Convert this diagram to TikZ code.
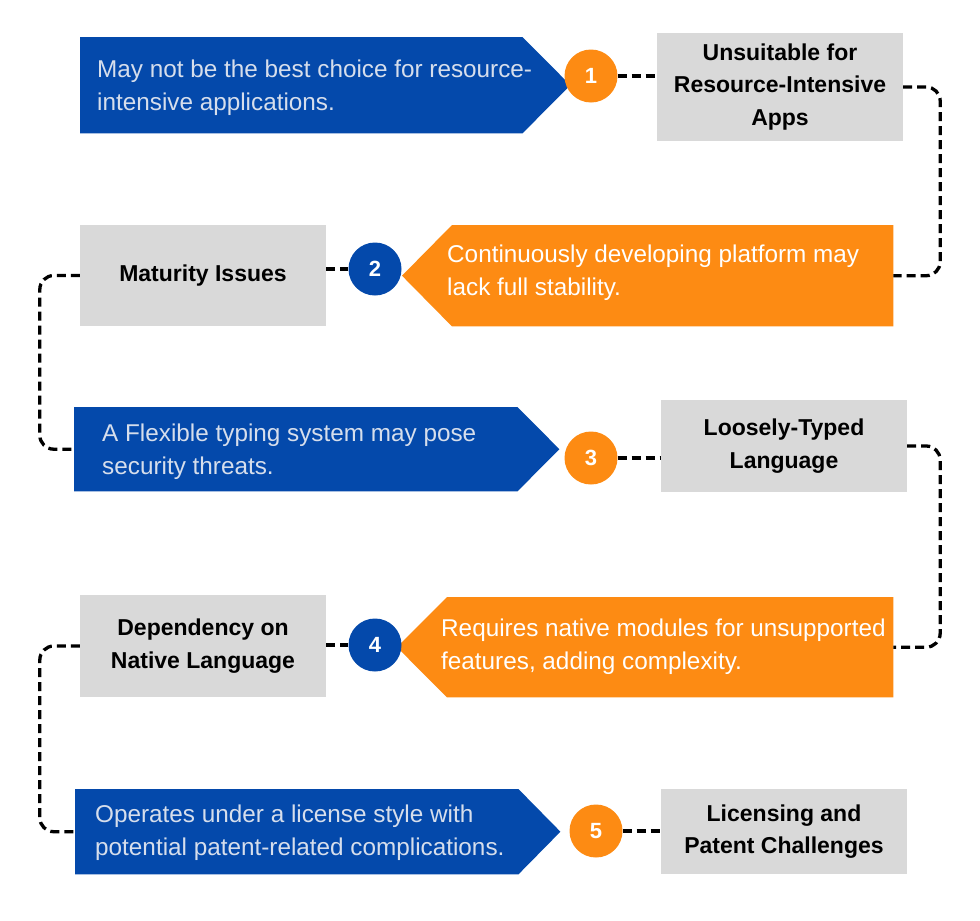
\documentclass[tikz,border=0pt]{standalone}
\usepackage{fontspec}
\setmainfont{Liberation Sans}
\usetikzlibrary{calc}
\definecolor{cblue}{RGB}{4,73,171}
\definecolor{corange}{RGB}{253,139,19}
\definecolor{cgray}{RGB}{217,217,217}
\definecolor{ctext}{RGB}{214,222,236}
\begin{document}
\begin{tikzpicture}[x=1pt,y=-1pt,
  shapebox/.style={inner sep=0pt, anchor=north west},
  graybox/.style={fill=cgray, inner sep=0pt, align=center, font=\fontsize{23}{32.5}\selectfont\bfseries, text=black},
  bluetext/.style={anchor=west, inner sep=0pt, align=left, yshift=-2.5pt, font=\fontsize{24.3}{33}\selectfont, text=ctext},
  orangetext/.style={anchor=west, inner sep=0pt, align=left, yshift=-2.5pt, font=\fontsize{24.3}{33}\selectfont, text=white},
  numcirc/.style={circle, minimum size=53pt, inner sep=0pt, font=\fontsize{22}{24}\selectfont\bfseries, text=white},
  link/.style={draw=black, line width=3.3pt, dash pattern=on 9pt off 5pt, rounded corners=14pt}
]
\useasboundingbox (0,0) rectangle (980,921);
\fill[white] (0,0) rectangle (980,921);

% ---------- row 1
\node[shapebox, minimum width=442pt, minimum height=96pt] (b1) at (80,37) {};
\fill[cblue] (b1.north west) -- (b1.north east) -- ($(b1.east)+(48,0)$) -- (b1.south east) -- (b1.south west) -- cycle;
\node[bluetext] (t1) at (97,85) {May not be the best choice for resource-\\intensive applications.};
\node[graybox, minimum width=246pt, minimum height=108pt] (g1) at (780,87) {Unsuitable for\\Resource-Intensive\\Apps};

% ---------- row 2
\node[graybox, minimum width=246pt, minimum height=101pt] (g2) at (203,275.5) {Maturity Issues};
\node[shapebox, minimum width=441pt, minimum height=101pt] (o2) at (452,225) {};
\fill[corange] (o2.north east) -- (o2.north west) -- ($(o2.west)+(-50,0)$) -- (o2.south west) -- (o2.south east) -- cycle;
\node[orangetext] (t2) at (447,270) {Continuously developing platform may\\lack full stability.};

% ---------- row 3
\node[shapebox, minimum width=443pt, minimum height=84pt] (b3) at (74,407) {};
\fill[cblue] (b3.north west) -- (b3.north east) -- ($(b3.east)+(42,0)$) -- (b3.south east) -- (b3.south west) -- cycle;
\node[bluetext] (t3) at (102,449) {A Flexible typing system may pose\\security threats.};
\node[graybox, minimum width=246pt, minimum height=92pt] (g3) at (784,446) {Loosely-Typed\\Language};

% ---------- row 4
\node[graybox, minimum width=246pt, minimum height=102pt] (g4) at (203,646) {Dependency on\\Native Language};
\node[shapebox, minimum width=446pt, minimum height=100pt] (o4) at (447,597) {};
\fill[corange] (o4.north east) -- (o4.north west) -- ($(o4.west)+(-50,0)$) -- (o4.south west) -- (o4.south east) -- cycle;
\node[orangetext] (t4) at (441,644) {Requires native modules for unsupported\\features, adding complexity.};

% ---------- row 5
\node[shapebox, minimum width=443pt, minimum height=85pt] (b5) at (75,789) {};
\fill[cblue] (b5.north west) -- (b5.north east) -- ($(b5.east)+(42,0)$) -- (b5.south east) -- (b5.south west) -- cycle;
\node[bluetext] (t5) at (95,830) {Operates under a license style with\\potential patent-related complications.};
\node[graybox, minimum width=246pt, minimum height=85pt] (g5) at (784,831.5) {Licensing and\\Patent Challenges};

% ---------- circle positions
\node[numcirc] (c1) at (591,76) {};
\node[numcirc] (c2) at (375,269) {};
\node[numcirc] (c3) at (591,458) {};
\node[numcirc] (c4) at (375,645) {};
\node[numcirc] (c5) at (596,831) {};

% ---------- connectors
\draw[link] (c1.east) -- (c1.east -| g1.west);
\draw[link] (g1.east) -- ++(37,0) |- (o2.east);
\draw[link] (g2.east |- c2.west) -- (c2.west);
\draw[link] (g2.west) -- ++(-40,0) |- (b3.west);
\draw[link] (c3.east) -- (c3.east -| g3.west);
\draw[link] (g3.east) -- ++(33,0) |- (o4.east);
\draw[link] (g4.east |- c4.west) -- (c4.west);
\draw[link] (g4.west) -- ++(-40,0) |- (b5.west);
\draw[link] (c5.east) -- (c5.east -| g5.west);

% ---------- circle fills on top
\node[numcirc, fill=corange] at (c1) {1};
\node[numcirc, fill=cblue] at (c2) {2};
\node[numcirc, fill=corange] at (c3) {3};
\node[numcirc, fill=cblue] at (c4) {4};
\node[numcirc, fill=corange] at (c5) {5};
\end{tikzpicture}
\end{document}
